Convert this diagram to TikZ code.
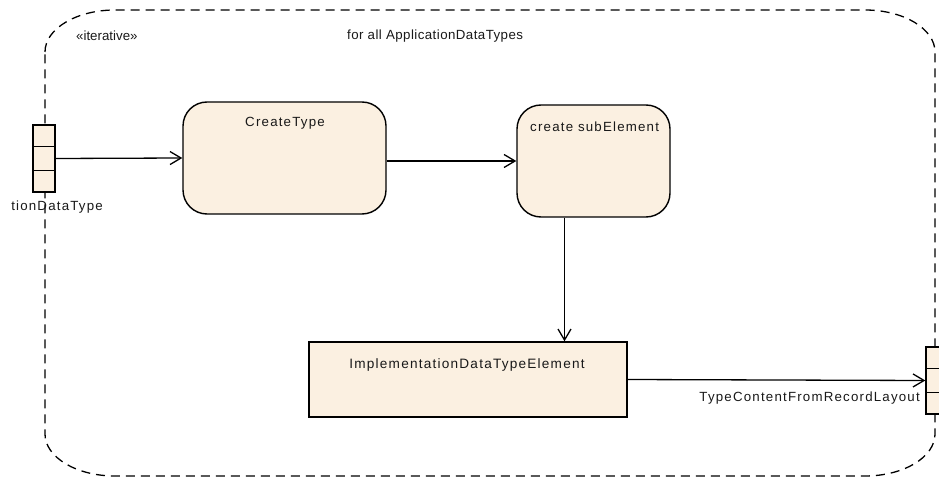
\documentclass[tikz,border=0pt]{standalone}
\usepackage{fontspec}
\setmainfont{Liberation Sans}[LetterSpace=9]
\newfontfamily\tightfont{Liberation Sans}[LetterSpace=3.3]
\newfontfamily\plainfont{Liberation Sans}
\usetikzlibrary{arrows.meta}
\definecolor{actfill}{RGB}{251,240,225}
\definecolor{txtcol}{RGB}{25,25,25}
\tikzset{
  box/.style={draw=black, fill=actfill, line width=1.4pt, inner sep=0pt},
  actbox/.style={box, rounded corners=24pt},
  lbl/.style={inner sep=0pt, text=txtcol, font=\fontsize{13.3}{16}\selectfont},
  conn/.style={line width=1.3pt, -{Straight Barb[length=11pt,width=13pt,line width=1.3pt]}},
  region/.style={draw=black, line width=1.3pt, dash pattern=on 9pt off 6pt},
}
\begin{document}
\begin{tikzpicture}[x=1pt,y=-1pt]
\useasboundingbox (0,0) rectangle (939,478);
% interruptible/expansion region
\draw[region] (45,52) .. controls (45,28.8) and (76.4,10) .. (115,10) -- (865,10)
  .. controls (903.6,10) and (935,28.8) .. (935,52) -- (935,434)
  .. controls (935,457.2) and (903.6,476) .. (865,476) -- (115,476)
  .. controls (76.4,476) and (45,457.2) .. (45,434) -- cycle;
\node[lbl, anchor=west, font=\plainfont\fontsize{13.3}{16}\selectfont] (iter) at (76,36) {«iterative»};
\node[lbl, anchor=west, font=\tightfont\fontsize{13.3}{16}\selectfont] (forall) at (347,36) {for all ApplicationDataTypes};
% ports
\node[box, minimum width=22pt, minimum height=67pt] (lp) at (44,158.5) {};
\draw[line width=1.4pt] ([yshift=-22.3pt]lp.north west) -- ([yshift=-22.3pt]lp.north east);
\draw[line width=1.4pt] ([yshift=22.3pt]lp.south west) -- ([yshift=22.3pt]lp.south east);
\node[lbl, anchor=east] (lpl) at (103,207) {tionDataType};
\node[box, minimum width=22pt, minimum height=67pt] (rp) at (937,380.5) {};
\draw[line width=1.4pt] ([yshift=-22.3pt]rp.north west) -- ([yshift=-22.3pt]rp.north east);
\draw[line width=1.4pt] ([yshift=22.3pt]rp.south west) -- ([yshift=22.3pt]rp.south east);
% actions
\node[actbox, minimum width=203pt, minimum height=112pt] (ct) at (284.5,158) {};
\node[lbl] (ctl) at (285,123) {CreateType};
\node[actbox, minimum width=153pt, minimum height=112pt] (se) at (593.5,161) {};
\node[lbl, anchor=west] (sel) at (530,127) {create subElement};
\node[box, minimum width=318pt, minimum height=75pt] (impl) at (468,379.5) {};
\node[lbl, font=\fontsize{13.6}{16}\selectfont] (impll) at (467,365) {ImplementationDataTypeElement};
% connectors
\draw[conn] (lp.east) -- (ct.west);
\draw[conn] (ct.east |- se.west) -- (se.west);
\draw[conn] ([xshift=-29pt]se.south) -- ([xshift=-29pt]se.south |- impl.north);
\draw[conn] (impl.east) -- (rp.west);
\node[lbl, anchor=east] (tcl) at (920,398) {TypeContentFromRecordLayout};
\end{tikzpicture}
\end{document}
